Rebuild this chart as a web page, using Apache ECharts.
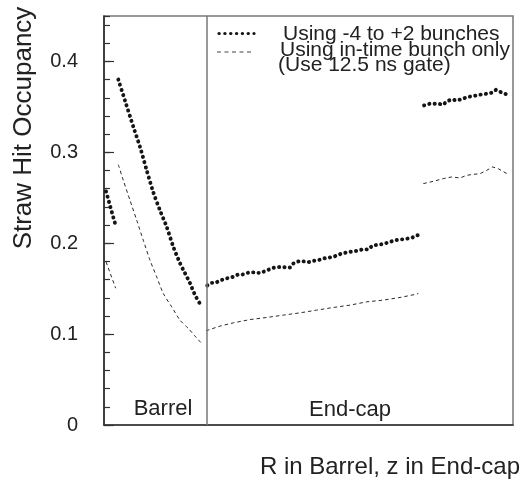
<!DOCTYPE html>
<html>
<head>
<meta charset="utf-8">
<style>
  html, body { margin: 0; padding: 0; background: #fff; }
  #chart { width: 523px; height: 494px; }
</style>
<script src="https://cdn.jsdelivr.net/npm/echarts@6/dist/echarts.min.js"></script>
</head>
<body>
<div id="chart"></div>
<script>
// Position along the detector: 0..1 is R in the barrel, 1..4 is z in the end-cap.
// Occupancy with the -4 to +2 bunch window (dotted curves).
const allBarrelInner = [[0.02, 0.257], [0.062, 0.240], [0.12, 0.217]];
const allBarrelOuter = [
  [0.140, 0.380], [0.205, 0.357], [0.287, 0.328], [0.352, 0.306], [0.418, 0.280],
  [0.482, 0.256], [0.548, 0.236], [0.613, 0.218], [0.678, 0.196], [0.743, 0.178],
  [0.792, 0.167], [0.841, 0.156], [0.890, 0.143], [0.946, 0.132]
];
const allEndcapLow = [
  [1.010, 0.1535], [1.056, 0.1564], [1.092, 0.1564], [1.138, 0.1593], [1.180, 0.1604],
  [1.226, 0.1623], [1.265, 0.1630], [1.311, 0.1656], [1.356, 0.1656], [1.405, 0.1674],
  [1.450, 0.1681], [1.493, 0.1674], [1.539, 0.1674], [1.578, 0.1696], [1.614, 0.1711],
  [1.653, 0.1729], [1.695, 0.1736], [1.738, 0.1740], [1.783, 0.1733], [1.819, 0.1733],
  [1.852, 0.1777], [1.884, 0.1795], [1.924, 0.1806], [1.959, 0.1799], [1.998, 0.1791],
  [2.047, 0.1806], [2.096, 0.1813], [2.145, 0.1832], [2.243, 0.1850], [2.325, 0.1887],
  [2.406, 0.1905], [2.471, 0.1916], [2.536, 0.1934], [2.585, 0.1931], [2.628, 0.1975],
  [2.716, 0.1989], [2.781, 0.2008], [2.846, 0.2033], [2.927, 0.2044], [3.009, 0.2058],
  [3.058, 0.2088], [3.090, 0.2088]
];
const allEndcapHigh = [
  [3.130, 0.3516], [3.188, 0.3535], [3.270, 0.3535], [3.318, 0.3524], [3.351, 0.3560],
  [3.400, 0.3582], [3.449, 0.3571], [3.514, 0.3590], [3.547, 0.3608], [3.612, 0.3619],
  [3.677, 0.3634], [3.743, 0.3645], [3.792, 0.3656], [3.834, 0.3688], [3.880, 0.3663],
  [3.922, 0.3645], [3.964, 0.3619]
];

// Occupancy with the in-time bunch only, 12.5 ns gate (dashed curves).
const inTimeBarrelInner = [[0.020, 0.1795], [0.114, 0.1505]];
const inTimeBarrelOuter = [
  [0.140, 0.2865], [0.189, 0.2692], [0.254, 0.2473], [0.320, 0.2253], [0.384, 0.2033],
  [0.450, 0.1813], [0.515, 0.1630], [0.580, 0.1447], [0.662, 0.1300], [0.743, 0.1154],
  [0.824, 0.1063], [0.890, 0.0978], [0.955, 0.0898]
];
const inTimeEndcapLow = [
  [0.998, 0.1037], [1.134, 0.1088], [1.265, 0.1124], [1.428, 0.1160], [1.591, 0.1183],
  [1.754, 0.1209], [1.917, 0.1234], [2.080, 0.1264], [2.243, 0.1293], [2.406, 0.1319],
  [2.569, 0.1355], [2.732, 0.1374], [2.895, 0.1403], [3.058, 0.1440], [3.074, 0.1447]
];
const inTimeEndcapHigh = [
  [3.123, 0.2656], [3.221, 0.2681], [3.318, 0.2711], [3.400, 0.2729], [3.482, 0.2718],
  [3.547, 0.2747], [3.612, 0.2758], [3.677, 0.2765], [3.743, 0.2802], [3.801, 0.2839],
  [3.856, 0.2820], [3.922, 0.2777], [3.964, 0.2755]
];

const barrelBoundary = 1;
const legendLabels = ['Using -4 to +2 bunches', 'Using in-time bunch only', '(Use 12.5 ns gate)'];
const regionLabels = ['Barrel', 'End-cap'];
const yTitle = 'Straw Hit Occupancy';
const xTitle = 'R in Barrel, z in End-cap';

const FONT = '"Liberation Sans", Arial, Helvetica, sans-serif';
const dottedStyle = { color: '#151515', width: 3.9, type: [0.2, 5.2], cap: 'round' };
const dashedStyle = { color: '#2a2a2a', width: 1, type: [3.5, 3] };

function curve(name, data, lineStyle, smooth) {
  return {
    type: 'line', name, data, symbol: 'none', silent: true,
    smooth: smooth || false, lineStyle, animation: false, z: 3
  };
}

const series = [
  curve('all-1', allBarrelInner, dottedStyle),
  curve('all-2', allBarrelOuter, dottedStyle, 0.25),
  curve('all-3', allEndcapLow, dottedStyle),
  curve('all-4', allEndcapHigh, dottedStyle),
  curve('intime-1', inTimeBarrelInner, dashedStyle),
  curve('intime-2', inTimeBarrelOuter, dashedStyle, 0.25),
  curve('intime-3', inTimeEndcapLow, dashedStyle),
  curve('intime-4', inTimeEndcapHigh, dashedStyle)
];
// barrel / end-cap boundary
series[0].markLine = {
  silent: true, symbol: 'none', animation: false,
  label: { show: false },
  lineStyle: { color: '#777', width: 1.5, type: 'solid' },
  data: [{ xAxis: barrelBoundary }]
};

const chart = echarts.init(document.getElementById('chart'), null, { renderer: 'canvas' });
chart.setOption({
  backgroundColor: '#fff',
  animation: false,
  grid: { left: 104, top: 16, right: 10, bottom: 69, show: true, borderColor: '#777', borderWidth: 1.5 },
  xAxis: {
    type: 'value', min: 0, max: 4,
    axisLine: { lineStyle: { color: '#333', width: 1.5 } },
    axisTick: { show: false }, axisLabel: { show: false }, splitLine: { show: false }
  },
  yAxis: [
    {
      type: 'value', min: 0, max: 0.45, interval: 0.1,
      axisLine: { show: true, lineStyle: { color: '#222', width: 1.5 } },
      axisTick: { show: true, inside: true, length: 10, lineStyle: { color: '#333', width: 1.2 } },
      axisLabel: { showMaxLabel: false, fontSize: 20, color: '#222', fontFamily: FONT, margin: 26 },
      splitLine: { show: false }
    },
    {
      type: 'value', min: 0, max: 0.45, interval: 0.02, position: 'left',
      axisLine: { show: false },
      axisTick: { show: true, inside: true, length: 6, lineStyle: { color: '#333', width: 1.2 } },
      axisLabel: { show: false }, splitLine: { show: false }
    }
  ],
  series,
  graphic: [
    { type: 'text', x: 24, y: 128, rotation: Math.PI / 2,
      style: { text: yTitle, font: '26px ' + FONT, fill: '#222', align: 'center', verticalAlign: 'middle' } },
    { type: 'text', x: 520, y: 467,
      style: { text: xTitle, font: '24px ' + FONT, fill: '#222', align: 'right', verticalAlign: 'middle' } },
    { type: 'text', x: 163, y: 409,
      style: { text: regionLabels[0], font: '22px ' + FONT, fill: '#222', align: 'center', verticalAlign: 'middle' } },
    { type: 'text', x: 350, y: 410,
      style: { text: regionLabels[1], font: '22px ' + FONT, fill: '#222', align: 'center', verticalAlign: 'middle' } },
    { type: 'line', shape: { x1: 219, y1: 33.5, x2: 254, y2: 33.5 },
      style: { stroke: '#151515', lineWidth: 3.2, lineDash: [0.2, 5.63], lineCap: 'round' } },
    { type: 'line', shape: { x1: 217, y1: 52, x2: 252, y2: 52 },
      style: { stroke: '#444', lineWidth: 1, lineDash: [4, 3.5] } },
    { type: 'text', x: 283, y: 34,
      style: { text: legendLabels[0], font: '21px ' + FONT, fill: '#222', align: 'left', verticalAlign: 'middle' } },
    { type: 'text', x: 280, y: 50,
      style: { text: legendLabels[1], font: '21px ' + FONT, fill: '#222', align: 'left', verticalAlign: 'middle' } },
    { type: 'text', x: 278, y: 65,
      style: { text: legendLabels[2], font: '21px ' + FONT, fill: '#222', align: 'left', verticalAlign: 'middle' } }
  ]
});
</script>
</body>
</html>
